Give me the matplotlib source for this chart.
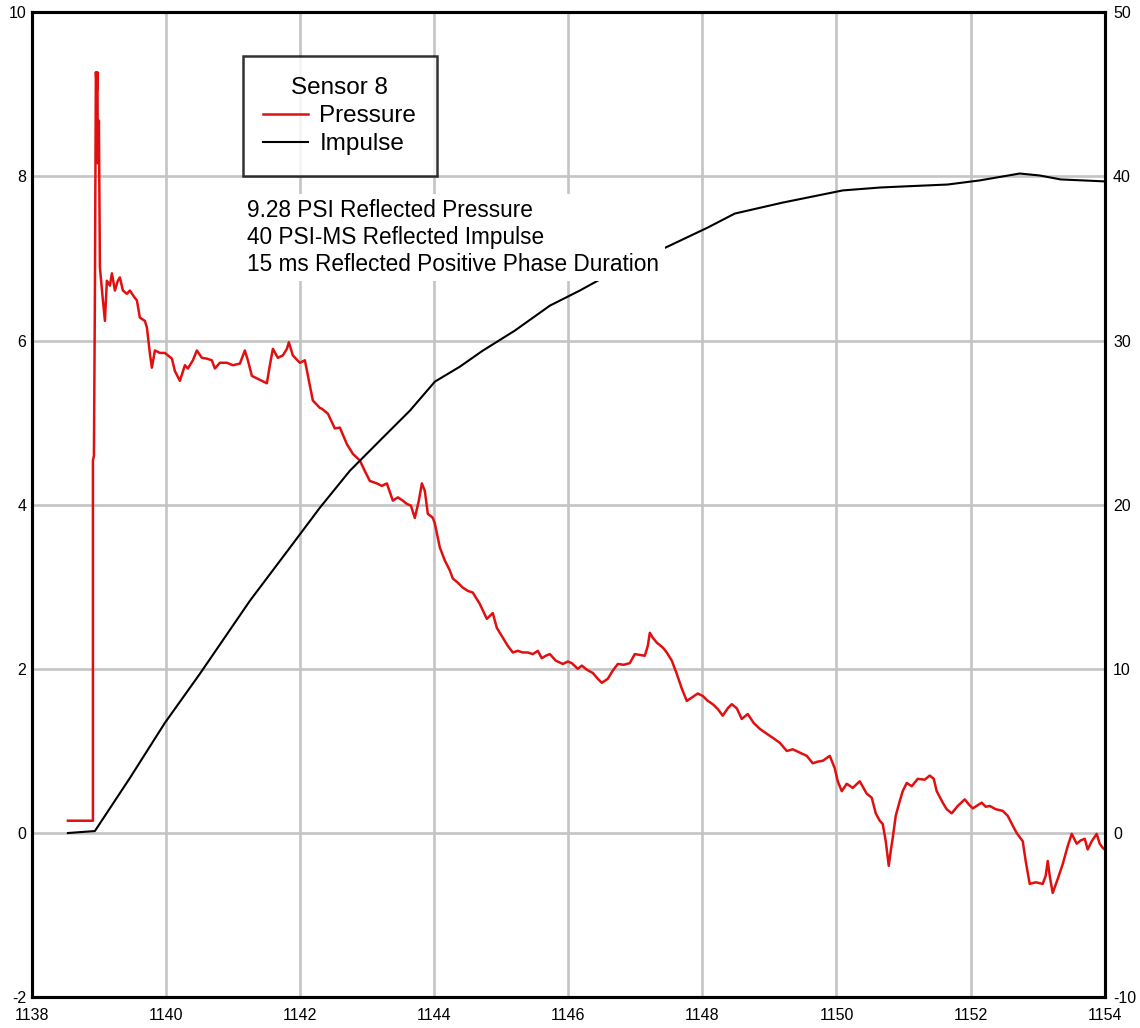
#!/usr/bin/env python3
"""
Sensor 8 reflected pressure and impulse trace.
"""

import matplotlib.pyplot as plt

plt.rcParams['font.family'] = ['Liberation Sans', 'DejaVu Sans']
plt.rcParams['axes.unicode_minus'] = False

# pressure trace (PSI) vs time (ms)
press_t = [1138.537, 1138.910, 1138.910, 1138.925, 1138.939, 1138.954, 1138.969, 1138.977,
           1138.984, 1138.999, 1139.014, 1139.059, 1139.089, 1139.118, 1139.163, 1139.193,
           1139.238, 1139.282, 1139.312, 1139.357, 1139.417, 1139.461, 1139.536, 1139.566,
           1139.610, 1139.685, 1139.715, 1139.760, 1139.789, 1139.834, 1139.909, 1139.983,
           1140.088, 1140.132, 1140.207, 1140.282, 1140.326, 1140.401, 1140.460, 1140.535,
           1140.610, 1140.684, 1140.729, 1140.803, 1140.908, 1140.997, 1141.102, 1141.176,
           1141.221, 1141.281, 1141.355, 1141.430, 1141.504, 1141.549, 1141.594, 1141.668,
           1141.743, 1141.803, 1141.832, 1141.892, 1141.996, 1142.071, 1142.146, 1142.190,
           1142.295, 1142.324, 1142.414, 1142.518, 1142.593, 1142.697, 1142.787, 1142.891,
           1142.966, 1143.040, 1143.145, 1143.219, 1143.294, 1143.383, 1143.458, 1143.532,
           1143.592, 1143.652, 1143.711, 1143.771, 1143.816, 1143.860, 1143.905, 1143.980,
           1144.010, 1144.084, 1144.159, 1144.233, 1144.278, 1144.353, 1144.427, 1144.502,
           1144.576, 1144.636, 1144.681, 1144.785, 1144.874, 1144.934, 1145.024, 1145.098,
           1145.173, 1145.247, 1145.322, 1145.396, 1145.471, 1145.546, 1145.605, 1145.665,
           1145.725, 1145.814, 1145.918, 1145.993, 1146.052, 1146.142, 1146.202, 1146.276,
           1146.366, 1146.440, 1146.500, 1146.590, 1146.664, 1146.739, 1146.828, 1146.917,
           1146.992, 1147.067, 1147.141, 1147.186, 1147.216, 1147.260, 1147.320, 1147.410,
           1147.469, 1147.544, 1147.618, 1147.693, 1147.767, 1147.842, 1147.931, 1148.006,
           1148.081, 1148.155, 1148.230, 1148.304, 1148.379, 1148.438, 1148.513, 1148.587,
           1148.677, 1148.766, 1148.856, 1148.960, 1149.050, 1149.154, 1149.259, 1149.348,
           1149.453, 1149.557, 1149.646, 1149.721, 1149.795, 1149.900, 1149.974, 1150.019,
           1150.079, 1150.153, 1150.243, 1150.347, 1150.451, 1150.526, 1150.586, 1150.645,
           1150.690, 1150.735, 1150.780, 1150.809, 1150.839, 1150.884, 1150.944, 1150.988,
           1151.048, 1151.123, 1151.212, 1151.316, 1151.391, 1151.451, 1151.495, 1151.585,
           1151.644, 1151.719, 1151.809, 1151.913, 1151.973, 1152.032, 1152.107, 1152.166,
           1152.226, 1152.286, 1152.375, 1152.480, 1152.554, 1152.629, 1152.688, 1152.733,
           1152.778, 1152.822, 1152.882, 1152.972, 1153.076, 1153.121, 1153.151, 1153.180,
           1153.225, 1153.300, 1153.374, 1153.449, 1153.509, 1153.583, 1153.643, 1153.703,
           1153.747, 1153.807, 1153.881, 1153.926, 1153.971, 1154.000]
press = [0.15, 0.15, 4.54, 4.60, 6.49, 9.27, 9.05, 9.27,
         8.16, 8.68, 6.89, 6.49, 6.24, 6.73, 6.67, 6.82,
         6.61, 6.73, 6.77, 6.61, 6.57, 6.61, 6.52, 6.49,
         6.28, 6.24, 6.16, 5.84, 5.67, 5.88, 5.85, 5.85,
         5.78, 5.63, 5.51, 5.70, 5.66, 5.76, 5.88, 5.79,
         5.78, 5.76, 5.66, 5.73, 5.73, 5.70, 5.72, 5.88,
         5.76, 5.57, 5.54, 5.51, 5.48, 5.70, 5.90, 5.79,
         5.82, 5.90, 5.98, 5.82, 5.73, 5.76, 5.45, 5.27,
         5.18, 5.17, 5.11, 4.93, 4.94, 4.74, 4.62, 4.54,
         4.41, 4.29, 4.26, 4.23, 4.26, 4.05, 4.09, 4.05,
         4.01, 3.99, 3.84, 4.05, 4.26, 4.17, 3.89, 3.84,
         3.77, 3.48, 3.32, 3.20, 3.10, 3.05, 2.99, 2.95,
         2.93, 2.85, 2.79, 2.61, 2.68, 2.50, 2.38, 2.28,
         2.20, 2.22, 2.20, 2.20, 2.18, 2.22, 2.13, 2.16,
         2.18, 2.10, 2.06, 2.09, 2.07, 2.00, 2.04, 1.99,
         1.95, 1.88, 1.83, 1.88, 1.98, 2.06, 2.05, 2.07,
         2.18, 2.17, 2.16, 2.28, 2.44, 2.38, 2.32, 2.26,
         2.20, 2.10, 1.94, 1.76, 1.61, 1.65, 1.70, 1.67,
         1.61, 1.57, 1.51, 1.43, 1.52, 1.57, 1.52, 1.39,
         1.45, 1.34, 1.27, 1.21, 1.16, 1.10, 1.00, 1.02,
         0.98, 0.94, 0.85, 0.87, 0.88, 0.94, 0.79, 0.63,
         0.51, 0.60, 0.55, 0.63, 0.48, 0.43, 0.24, 0.15,
         0.11, -0.10, -0.40, -0.22, -0.06, 0.21, 0.39, 0.51,
         0.61, 0.57, 0.66, 0.65, 0.70, 0.66, 0.51, 0.37,
         0.29, 0.24, 0.33, 0.41, 0.35, 0.30, 0.34, 0.37,
         0.32, 0.33, 0.29, 0.27, 0.21, 0.09, 0.00, -0.05,
         -0.10, -0.34, -0.62, -0.60, -0.62, -0.52, -0.34, -0.52,
         -0.73, -0.56, -0.38, -0.16, -0.01, -0.13, -0.09, -0.07,
         -0.20, -0.10, -0.01, -0.13, -0.18, -0.20]

# impulse (PSI-MS) vs time (ms)
imp_t = [1138.537, 1138.939, 1139.461, 1139.983, 1140.505, 1141.251, 1141.847, 1142.295,
         1142.742, 1143.234, 1143.637, 1144.010, 1144.382, 1144.725, 1145.203, 1145.725,
         1146.172, 1146.768, 1147.514, 1148.081, 1148.483, 1149.199, 1150.094, 1150.660,
         1150.988, 1151.659, 1152.137, 1152.733, 1153.031, 1153.344, 1154.000]
impulse = [0.0, 0.12, 3.35, 6.71, 9.70, 14.15, 17.38, 19.82,
           22.07, 24.09, 25.73, 27.50, 28.41, 29.39, 30.61, 32.13,
           33.05, 34.39, 35.79, 36.89, 37.74, 38.41, 39.15, 39.33,
           39.39, 39.51, 39.76, 40.18, 40.06, 39.82, 39.70]

x_ticks = [1138, 1140, 1142, 1144, 1146, 1148, 1150, 1152, 1154]
p_ticks = [-2, 0, 2, 4, 6, 8, 10]
i_ticks = [-10, 0, 10, 20, 30, 40, 50]

notes = ("9.28 PSI Reflected Pressure\n"
         "40 PSI-MS Reflected Impulse\n"
         "15 ms Reflected Positive Phase Duration")

fig = plt.figure(figsize=(11.4, 10.28), dpi=100)
ax = fig.add_axes([0.028, 0.030, 0.941, 0.958])
ax2 = ax.twinx()

l1, = ax.plot(press_t, press, color='#e01010', lw=1.8, label='Pressure', zorder=3)
l2, = ax2.plot(imp_t, impulse, color='black', lw=1.5, label='Impulse', zorder=3)

ax.set_xlim(1138, 1154)
ax.set_ylim(-2, 10)
ax2.set_ylim(-10, 50)
ax.set_xticks(x_ticks)
ax.set_yticks(p_ticks)
ax2.set_yticks(i_ticks)
ax.grid(True, color='#c4c4c4', lw=1.9)
ax.set_axisbelow(True)

ax.tick_params(axis='both', length=0, labelsize=11.5, pad=4)
ax.tick_params(axis='x', pad=8)
ax2.tick_params(axis='y', length=0, labelsize=11.5, pad=6)
for a in (ax, ax2):
    for s in a.spines.values():
        s.set_linewidth(2.2)
        s.set_color('black')

ax2.text(1141.206, 38.6, notes, fontsize=16.3, va='top', ha='left',
         linespacing=1.2, zorder=5,
         bbox=dict(facecolor='white', edgecolor='none', pad=4))

leg = ax2.legend(handles=[l1, l2], title='Sensor 8', loc='upper left',
                 bbox_to_anchor=(0.1966, 0.9553), borderaxespad=0,
                 fontsize=17.5, title_fontsize=17.5,
                 frameon=True, fancybox=False, handlelength=1.85, handletextpad=0.45,
                 borderpad=0.85, labelspacing=0.25)
leg.get_frame().set_edgecolor('black')
leg.get_frame().set_linewidth(1.8)
leg.set_zorder(6)

fig.savefig("out.png", dpi=100)
plt.close(fig)
